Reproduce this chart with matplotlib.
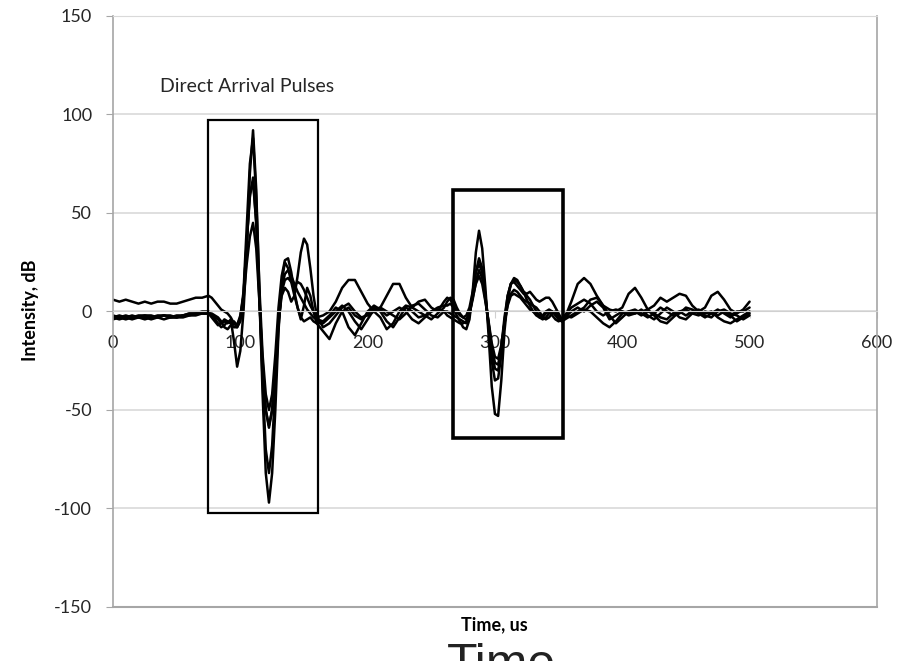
import matplotlib.pyplot as plt
import matplotlib.patches as patches
import numpy as np

plt.rcParams['font.family'] = ['Lato', 'DejaVu Sans']
plt.rcParams['axes.unicode_minus'] = False

# sample times (us): coarse on the quiet parts, finer across the two pulses
time_us = np.r_[np.arange(0, 75, 5), np.arange(75, 162.5, 2.5),
                np.arange(165, 262.5, 5), np.arange(262.5, 357.5, 2.5),
                np.arange(360, 505, 5)]

trace_1 = [
    6, 5, 6, 5, 4, 5, 4, 5, 5, 4, 4, 5, 6, 7, 7,
    8, 7, 5, 3, 1, 0, -1, -3, -6, -7, -2, 8, 35, 60, 66, 45, 8, -30, -50, -58,
    -50, -30, -5, 10, 16, 17, 15, 13, 15, 14, 11, 7, 3, 0, -3,
    -2, 0, 5, 12, 16, 16, 10, 4, 0, 2, 8, 14, 14, 7, 2, 5, 6, 2, 0, 5,
    7, 6, 3, 0, -2, -3, -2, 2, 10, 20, 24, 20, 8, -6, -18, -26, -27, -18, -3,
    8, 14, 16, 15, 13, 10, 9, 10, 8, 6, 5, 6, 7, 7, 5, 2, -1, -4, -3,
    5, 14, 17, 14, 8, 3, 1, 0, 2, 9, 12, 7, 1, 3, 7, 5, 7, 9, 8, 3, 0, 2, 8,
    10, 6, 1, -1, 1, 5,
]
trace_2 = [
    -3, -2, -3, -2, -3, -2, -2, -3, -2, -2, -3, -2, -1, -1, 0,
    0, -2, -3, -4, -6, -5, -6, -4, -15, -28, -20, 0, 30, 70, 92, 62, 10, -42,
    -82, -97, -82, -50, -10, 15, 25, 22, 15, 8, 2, -3, -5, -4, -3, -5, -6,
    -10, -14, -6, 0, 2, -2, -4, -1, 2, 0, -5, -8, -3, 2, 0, -3, -2, 0, 2, 3,
    3, 4, 2, -2, -5, -8, -9, -4, 10, 30, 41, 32, 12, -12, -38, -52, -53, -35,
    -10, 6, 14, 17, 16, 13, 10, 6, 3, 0, -2, -3, -2, 0, 1, 0, -2, -4, -5, -3,
    0, 2, 0, 3, 5, 2, -4, -2, 0, -1, 0, -2, 0, -1, -3, -4, -1, 0, -2, 0, 1,
    -1, 0, -3, -5, -6, -4, -2, 0,
]
trace_3 = [
    -4, -3, -4, -3, -3, -4, -3, -3, -4, -3, -3, -2, -2, -2, -1,
    -1, -2, -4, -6, -8, -7, -5, -6, -8, -8, -5, 8, 35, 58, 68, 45, 5, -35,
    -70, -82, -68, -38, -8, 12, 19, 21, 18, 14, 10, 7, 4, 1, -1, -3, -4,
    -5, -2, 2, 0, -8, -12, -6, 0, 3, 1, -2, 0, 2, 0, -4, -6, -3, 0, 1, 0,
    0, -1, -2, -3, -4, -5, -6, -2, 8, 20, 27, 22, 8, -8, -25, -35, -34, -22,
    -5, 8, 14, 15, 13, 11, 9, 8, 6, 3, 0, -2, -3, -1, 0, -2, -4, -5, -4, -2,
    -3, -1, 1, 0, -3, -6, -8, -5, -1, 0, -1, 0, 1, -2, -5, -6, -3, 0, 1, -1,
    -2, 0, -1, -2, 0, -2, -5, -3, -1,
]
trace_4 = [
    -2, -3, -2, -3, -2, -2, -3, -2, -2, -3, -2, -2, -1, -1, -1,
    -1, -1, -2, -3, -5, -8, -9, -7, -6, -8, -4, 6, 24, 38, 45, 32, 5, -25,
    -50, -59, -50, -28, -5, 8, 12, 10, 5, 8, 18, 30, 37, 34, 22, 8, -2,
    -8, -6, -2, 2, 4, 0, -3, -2, 0, -3, -9, -6, 0, 3, 2, 0, -2, -4, -1, 2,
    5, 7, 6, 2, -1, -3, -4, -1, 6, 15, 21, 17, 6, -6, -20, -29, -30, -20,
    -6, 4, 9, 11, 10, 8, 6, 5, 4, 3, 2, 0, -3, -4, -3, -1, 0, -2, -4, -2,
    2, 4, 6, 4, 0, -2, 0, 1, 0, -2, -1, 1, -2, -4, -1, 2, 0, -3, -4, -1, 0,
    -2, -3, 0, 1, -1, -2, -4, -2,
]
trace_5 = [
    -3, -4, -3, -4, -3, -3, -4, -3, -2, -3, -3, -3, -2, -1, -1,
    -1, -3, -5, -7, -6, -4, -5, -6, -5, -7, -3, 10, 42, 75, 88, 58, 12, -22,
    -42, -50, -42, -22, 2, 18, 26, 27, 20, 10, 2, -4, 3, 12, 8, 0, -6,
    -6, -3, 0, 3, 0, -5, -9, -4, 1, 2, 0, -2, -4, -1, 3, 4, 1, -2, -3, 0,
    -2, -3, -4, -5, -6, -6, -5, 0, 7, 14, 18, 14, 5, -5, -16, -23, -24, -17,
    -6, 3, 8, 9, 8, 7, 5, 3, 1, 0, -1, -3, -4, -3, -1, 0, -1, -3, -5, -4,
    -2, 0, 2, 6, 7, 3, -2, -6, -3, 0, 1, -1, -3, -1, 2, 0, -2, -1, 2, 1, -1,
    -3, -1, 1, -1, -3, 0, 0, 2,
]
traces = [trace_1, trace_2, trace_3, trace_4, trace_5]

# time window / intensity range of the two boxed arrivals
box_t = [(75, 161), (267, 353.5)]
box_db = [(-102.5, 97), (-64, 61.5)]
box_lw = [1.6, 2.6]

fig = plt.figure(figsize=(9.04, 6.61), dpi=100)
ax = fig.add_axes([0.125, 0.0817, 0.845, 0.8941])

for tr in traces:
    ax.plot(time_us, tr, color='black', linewidth=1.8,
            solid_joinstyle='round', solid_capstyle='round')

for (t0, t1), (d0, d1), lw in zip(box_t, box_db, box_lw):
    ax.add_patch(patches.Rectangle((t0, d0), t1 - t0, d1 - d0, fill=False,
                                   edgecolor='black', linewidth=lw, zorder=3))

ax.text(37, 114, 'Direct Arrival Pulses', fontsize=14, color='#262626',
        va='center', ha='left')

ax.set_xlim(0, 600)
ax.set_ylim(-150, 150)
ax.set_xticks(np.arange(0, 700, 100))
ax.set_yticks(np.arange(-150, 200, 50))
ax.yaxis.grid(True, color='#d9d9d9', linewidth=1.2)
ax.set_axisbelow(True)

ax.spines['bottom'].set_position(('data', 0))
ax.spines['bottom'].set_color('#d0d0d0')
for side in ['left', 'right']:
    ax.spines[side].set_color('#a6a6a6')
    ax.spines[side].set_linewidth(1.2)
ax.spines['top'].set_color('#d9d9d9')
ax.axhline(-150, color='#a6a6a6', linewidth=1.5, clip_on=False)

ax.tick_params(axis='y', length=5, color='#a6a6a6', pad=10, labelsize=13,
               labelcolor='#262626')
ax.tick_params(axis='x', length=5, color='#d0d0d0', pad=12, labelsize=13,
               labelcolor='#262626')

fig.text(0.547, 0.055, 'Time, us', fontsize=13, fontweight='bold',
         ha='center', va='center')
fig.text(0.034, 0.53, 'Intensity, dB', fontsize=13, fontweight='bold',
         rotation=90, ha='center', va='center')
# large caption below the chart, only its top edge fits on the canvas
fig.text(0.555, 0.027, 'Time', fontsize=36, family='Liberation Sans',
         ha='center', va='top', color='#222222')

fig.savefig('out.png', dpi=100)
